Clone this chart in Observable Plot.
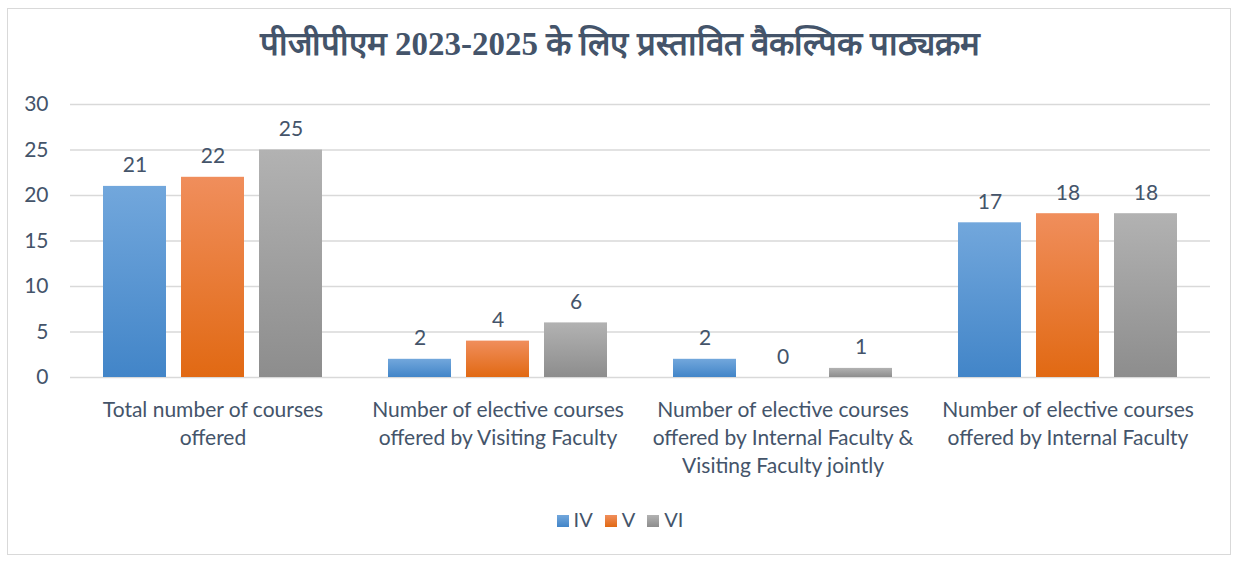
<!DOCTYPE html>
<html>
<head>
<meta charset="utf-8">
<script src="https://cdn.jsdelivr.net/npm/d3@7"></script>
<script src="https://cdn.jsdelivr.net/npm/@observablehq/plot@0.6"></script>
<style>
  html, body { margin: 0; padding: 0; background: #fff; width: 1240px; height: 561px; overflow: hidden; }
  #frame { position: absolute; left: 7px; top: 8px; width: 1224px; height: 547px; border: 1px solid #d9d9d9; box-sizing: border-box; }
  #title { position: absolute; left: 0; top: 20px; width: 1240px; text-align: center; font-family: "Liberation Serif", "Noto Serif", serif; font-weight: bold; font-size: 33px; color: #44546a; }
  #chart { position: absolute; left: 0; top: 80px; }
  #legend { position: absolute; top: 507px; left: 0; width: 1240px; text-align: center; font-family: Lato, "Open Sans", sans-serif; font-size: 20px; color: #44546a; }
  .li { display: inline-block; margin: 0 6px; }
  .sw { display: inline-block; width: 12px; height: 12px; margin-right: 5px; vertical-align: 0px; }
</style>
</head>
<body>
<div id="frame"></div>
<div id="title">पीजीपीएम 2023-2025 के लिए प्रस्तावित वैकल्पिक पाठ्यक्रम</div>
<div id="chart"></div>
<div id="legend"></div>
<script>
const categories = [
  "Total number of courses\noffered",
  "Number of elective courses\noffered by Visiting Faculty",
  "Number of elective courses\noffered by Internal Faculty &\nVisiting Faculty jointly",
  "Number of elective courses\noffered by Internal Faculty"
];
const seriesNames = ["IV", "V", "VI"];
const valuesIV = [21, 2, 2, 17];
const valuesV  = [22, 4, 0, 18];
const valuesVI = [25, 6, 1, 18];
const yTicks = [0, 5, 10, 15, 20, 25, 30];

const gradients = {
  IV: ["#72a7dc", "#4285c8"],
  V:  ["#f08e5c", "#e16913"],
  VI: ["#b2b2b2", "#8d8d8d"]
};

const seriesValues = [valuesIV, valuesV, valuesVI];
const data = [];
categories.forEach((c, i) => {
  seriesNames.forEach((s, j) => {
    data.push({category: c, series: s, value: seriesValues[j][i]});
  });
});

const defs = () => {
  const svg = d3.create("svg:defs");
  for (const s of seriesNames) {
    const g = svg.append("linearGradient").attr("id", "grad-" + s)
      .attr("x1", 0).attr("y1", 0).attr("x2", 0).attr("y2", 1);
    g.append("stop").attr("offset", "0%").attr("stop-color", gradients[s][0]);
    g.append("stop").attr("offset", "100%").attr("stop-color", gradients[s][1]);
  }
  return svg.node();
};

const chart = Plot.plot({
  width: 1240,
  height: 420,
  marginLeft: 70,
  marginRight: 30,
  marginTop: 24,
  marginBottom: 123,
  style: { fontFamily: "Lato, 'Open Sans', sans-serif", fontSize: "21px", color: "#44546a", background: "transparent" },
  fx: { domain: categories, padding: 0 },
  x: { domain: seriesNames, paddingInner: 0.19, paddingOuter: 0.4, axis: null },
  y: { domain: [0, 30], ticks: yTicks },
  color: { type: "identity" },
  marks: [
    defs,
    Plot.gridY(yTicks, { stroke: "#d9d9d9", strokeOpacity: 1, strokeWidth: 1.3 }),
    Plot.axisY(yTicks, { tickSize: 0, tickPadding: 22, label: null, fill: "#44546a", fontSize: 21 }),
    Plot.axisFx({ anchor: "bottom", tickSize: 0, tickPadding: 20, label: null, lineHeight: 1.33, fill: "#44546a", fontSize: 21 }),
    Plot.barY(data, { fx: "category", x: "series", y: "value", fill: d => "url(#grad-" + d.series + ")" }),
    Plot.text(data, { fx: "category", x: "series", y: "value", text: d => String(d.value), lineAnchor: "bottom", dy: -14, fill: "#44546a", fontSize: 21 })
  ]
});
document.getElementById("chart").appendChild(chart);

const legend = document.getElementById("legend");
for (const s of seriesNames) {
  const span = document.createElement("span");
  span.className = "li";
  span.innerHTML = `<span class="sw" style="background:linear-gradient(${gradients[s][0]}, ${gradients[s][1]})"></span>${s}`;
  legend.appendChild(span);
}
</script>
</body>
</html>
